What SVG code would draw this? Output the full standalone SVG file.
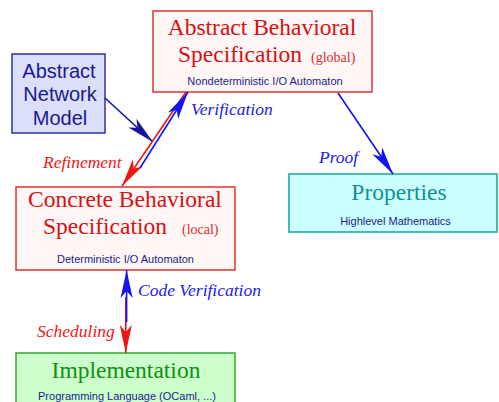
<svg xmlns="http://www.w3.org/2000/svg" width="499" height="402" viewBox="0 0 499 402">
<defs>
<style>
.serif{font-family:"Liberation Serif","Times New Roman",serif;}
.sans{font-family:"Liberation Sans",Arial,sans-serif;}
.title-red{fill:#d81010;font-size:23.5px;}
.small-red{fill:#d83030;font-size:14px;}
.sub{fill:#1c1c8c;font-size:11px;}
.lbl{font-style:italic;font-size:17.5px;}
.blue{fill:#2020e8;}
.red{fill:#f01818;}
.redbox{fill:#fff6f6;stroke:#dd3535;stroke-width:1.5;}
.line-blue{stroke:#1515ee;stroke-width:1.6;fill:none;}
.line-red{stroke:#f01515;stroke-width:1.6;fill:none;}
.line-navy{stroke:#15159a;stroke-width:1.6;fill:none;}
</style>
<marker id="ah-blue" markerUnits="userSpaceOnUse" viewBox="-30 -7 32 14" refX="0" refY="0" markerWidth="32" markerHeight="14" orient="auto"><path d="M0,0 L-28,-6 L-21,0 L-28,6 Z" fill="#1515ee"/></marker>
<marker id="ah-red" markerUnits="userSpaceOnUse" viewBox="-30 -7 32 14" refX="0" refY="0" markerWidth="32" markerHeight="14" orient="auto"><path d="M0,0 L-28,-6 L-21,0 L-28,6 Z" fill="#f01515"/></marker>
<marker id="ah-navy" markerUnits="userSpaceOnUse" viewBox="-30 -7 32 14" refX="0" refY="0" markerWidth="32" markerHeight="14" orient="auto"><path d="M0,0 L-28,-6 L-21,0 L-28,6 Z" fill="#15159a"/></marker>
</defs>
<rect width="499" height="402" fill="#ffffff"/>

<g id="abstract-spec">
<rect class="redbox" x="153" y="11" width="219" height="81"/>
<text class="serif title-red" x="262" y="35" text-anchor="middle">Abstract Behavioral</text>
<text class="serif title-red" x="178" y="62">Specification</text>
<text class="serif small-red" x="311" y="62">(global)</text>
<text class="sans sub" x="265" y="85" text-anchor="middle">Nondeterministic I/O Automaton</text>
</g>

<g id="network-model">
<rect x="12" y="54" width="93" height="79" fill="#dcdff8" stroke="#3030a8" stroke-width="1.5"/>
<text class="sans" x="59" y="78" text-anchor="middle" font-size="20" fill="#1a1a90">Abstract</text>
<text class="sans" x="60" y="101" text-anchor="middle" font-size="20" fill="#1a1a90">Network</text>
<text class="sans" x="60" y="125" text-anchor="middle" font-size="20" fill="#1a1a90">Model</text>
</g>

<g id="concrete-spec">
<rect class="redbox" x="16" y="187" width="219" height="83"/>
<text class="serif title-red" x="125" y="207" text-anchor="middle">Concrete Behavioral</text>
<text class="serif title-red" x="43" y="234">Specification</text>
<text class="serif small-red" x="182" y="234">(local)</text>
<text class="sans sub" x="125.5" y="263" text-anchor="middle">Deterministic I/O Automaton</text>
</g>

<g id="properties">
<rect x="289" y="174" width="208" height="58" fill="#ccffff" stroke="#15a5a5" stroke-width="1.5"/>
<text class="serif" x="399" y="200" text-anchor="middle" font-size="23.5" fill="#109090">Properties</text>
<text class="sans sub" x="395.5" y="225" text-anchor="middle">Highlevel Mathematics</text>
</g>

<g id="implementation">
<rect x="16" y="353" width="219" height="60" fill="#ccffcc" stroke="#30a830" stroke-width="1.5"/>
<text class="serif" x="126" y="378" text-anchor="middle" font-size="23.5" fill="#109010">Implementation</text>
<text class="sans sub" x="127" y="400" text-anchor="middle">Programming Language (OCaml, ...)</text>
</g>

<g id="connectors">
<path class="line-navy" d="M105,98 L153,142" marker-end="url(#ah-navy)"/>
<path class="line-red" d="M186,92 L122,186" marker-end="url(#ah-red)"/>
<path class="line-blue" d="M140,168 L188,92" marker-end="url(#ah-blue)"/>
<path class="line-blue" d="M338,93 L393,174" marker-end="url(#ah-blue)"/>
<path class="line-red" d="M125.8,297 L125.8,353" marker-end="url(#ah-red)"/>
<path class="line-blue" d="M126.6,322 L126.6,270" marker-end="url(#ah-blue)"/>
<text class="serif lbl blue" x="191" y="115">Verification</text>
<text class="serif lbl red" x="43" y="168" font-size="16.7">Refinement</text>
<text class="serif lbl blue" x="319" y="163" font-size="18">Proof</text>
<text class="serif lbl blue" x="138" y="296" font-size="18">Code Verification</text>
<text class="serif lbl red" x="37" y="337" font-size="16.7">Scheduling</text>
</g>
</svg>
